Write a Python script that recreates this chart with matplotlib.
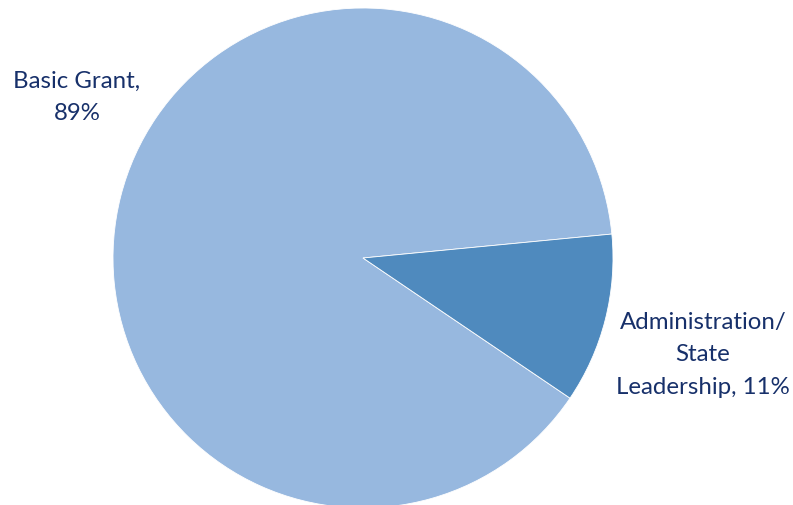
import matplotlib.pyplot as plt

labels = ["Basic Grant,\n89%", "Administration/\nState\nLeadership, 11%"]
shares = [89, 11]
colors = ["#97B8DF", "#4F8ABE"]

plt.rcParams['font.family'] = ['Lato', 'DejaVu Sans']

fig = plt.figure(figsize=(7.93, 5.06), dpi=100)
# pie centred at (363, 259) px with radius 250 px
ax = fig.add_axes([113 / 793, (506 - 259 - 250) / 506, 500 / 793, 500 / 506])
ax.pie(shares, colors=colors, startangle=5.5, counterclock=True,
       wedgeprops=dict(edgecolor="white", linewidth=0.6))
ax.set_xlim(-1, 1)
ax.set_ylim(-1, 1)
ax.set_aspect("equal")
ax.axis("off")

text_color = "#17306A"
fig.text(77 / 793, 1 - 97 / 506, labels[0], ha="center", va="center",
         multialignment="center", fontsize=17.3, color=text_color, linespacing=1.65)
fig.text(703 / 793, 1 - 355 / 506, labels[1], ha="center", va="center",
         multialignment="center", fontsize=17.3, color=text_color, linespacing=1.65)

fig.savefig("out.png", dpi=100)
